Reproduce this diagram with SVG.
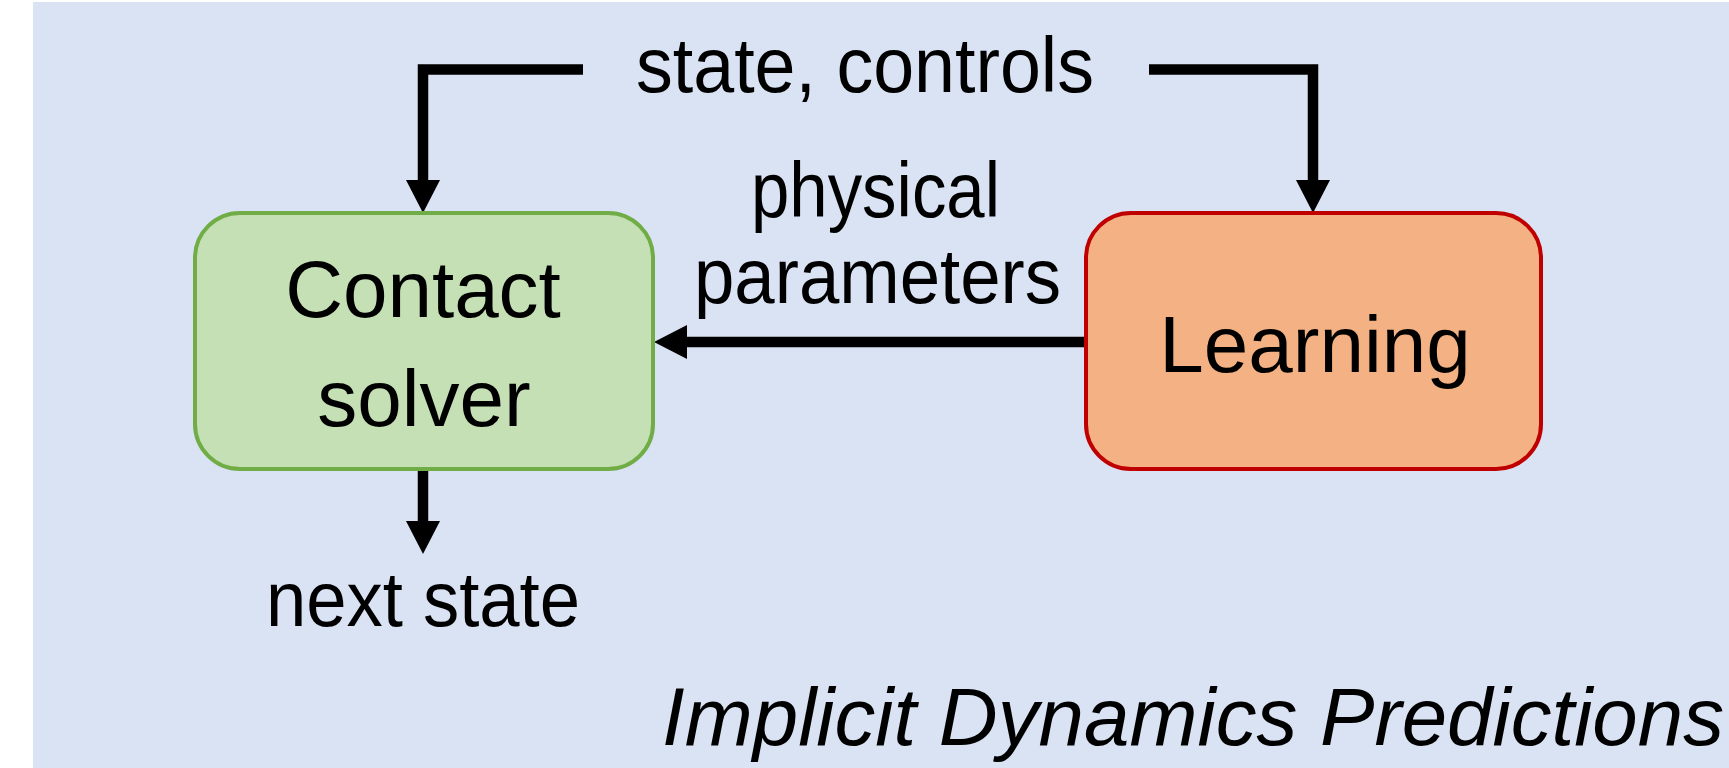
<svg xmlns="http://www.w3.org/2000/svg" width="1729" height="768" viewBox="0 0 1729 768">
<defs>
<style>
.bg{fill:#DAE3F3}
.box-text{font-family:"Liberation Sans",Arial,sans-serif;font-size:80px;fill:#000;text-anchor:middle}
.label{font-family:"Liberation Sans",Arial,sans-serif;font-size:78px;fill:#000}
.title{font-family:"Liberation Sans",Arial,sans-serif;font-size:81px;font-style:italic;fill:#000}
.conn{fill:none;stroke:#000;stroke-width:10.5;stroke-linejoin:miter;stroke-linecap:butt}
</style>
<marker id="arrow" markerUnits="userSpaceOnUse" markerWidth="34" markerHeight="36" viewBox="0 -18 34 36" refX="0" refY="0" orient="auto">
<path d="M0,-17 L33,0 L0,17 Z" fill="#000"/>
</marker>
</defs>
<rect class="bg" x="33" y="2" width="1696" height="766"/>
<g id="connectors">
<path class="conn" d="M583,69.5 H423 V180" marker-end="url(#arrow)"/>
<path class="conn" d="M1149,69.5 H1313 V180" marker-end="url(#arrow)"/>
<path class="conn" d="M1084,342 H687" marker-end="url(#arrow)"/>
<path class="conn" d="M423,471 V521" marker-end="url(#arrow)"/>
</g>
<g id="contact-solver">
<rect x="195" y="213" width="458" height="256" rx="45" ry="45" fill="#C5E0B4" stroke="#70AD47" stroke-width="4"/>
<text class="box-text" x="423" y="317">Contact</text>
<text class="box-text" x="424" y="426">solver</text>
</g>
<g id="learning">
<rect x="1086" y="213" width="455" height="256" rx="45" ry="45" fill="#F4B183" stroke="#C00000" stroke-width="4"/>
<text class="box-text" x="1315" y="372">Learning</text>
</g>
<g id="labels">
<text class="label" x="636" y="92" textLength="458" lengthAdjust="spacingAndGlyphs">state, controls</text>
<text class="label" x="751" y="217" textLength="249" lengthAdjust="spacingAndGlyphs">physical</text>
<text class="label" x="694" y="303" textLength="367" lengthAdjust="spacingAndGlyphs">parameters</text>
<text class="label" x="266" y="626" textLength="314" lengthAdjust="spacingAndGlyphs">next state</text>
<text class="title" x="662" y="745" textLength="1062" lengthAdjust="spacingAndGlyphs">Implicit Dynamics Predictions</text>
</g>
</svg>
